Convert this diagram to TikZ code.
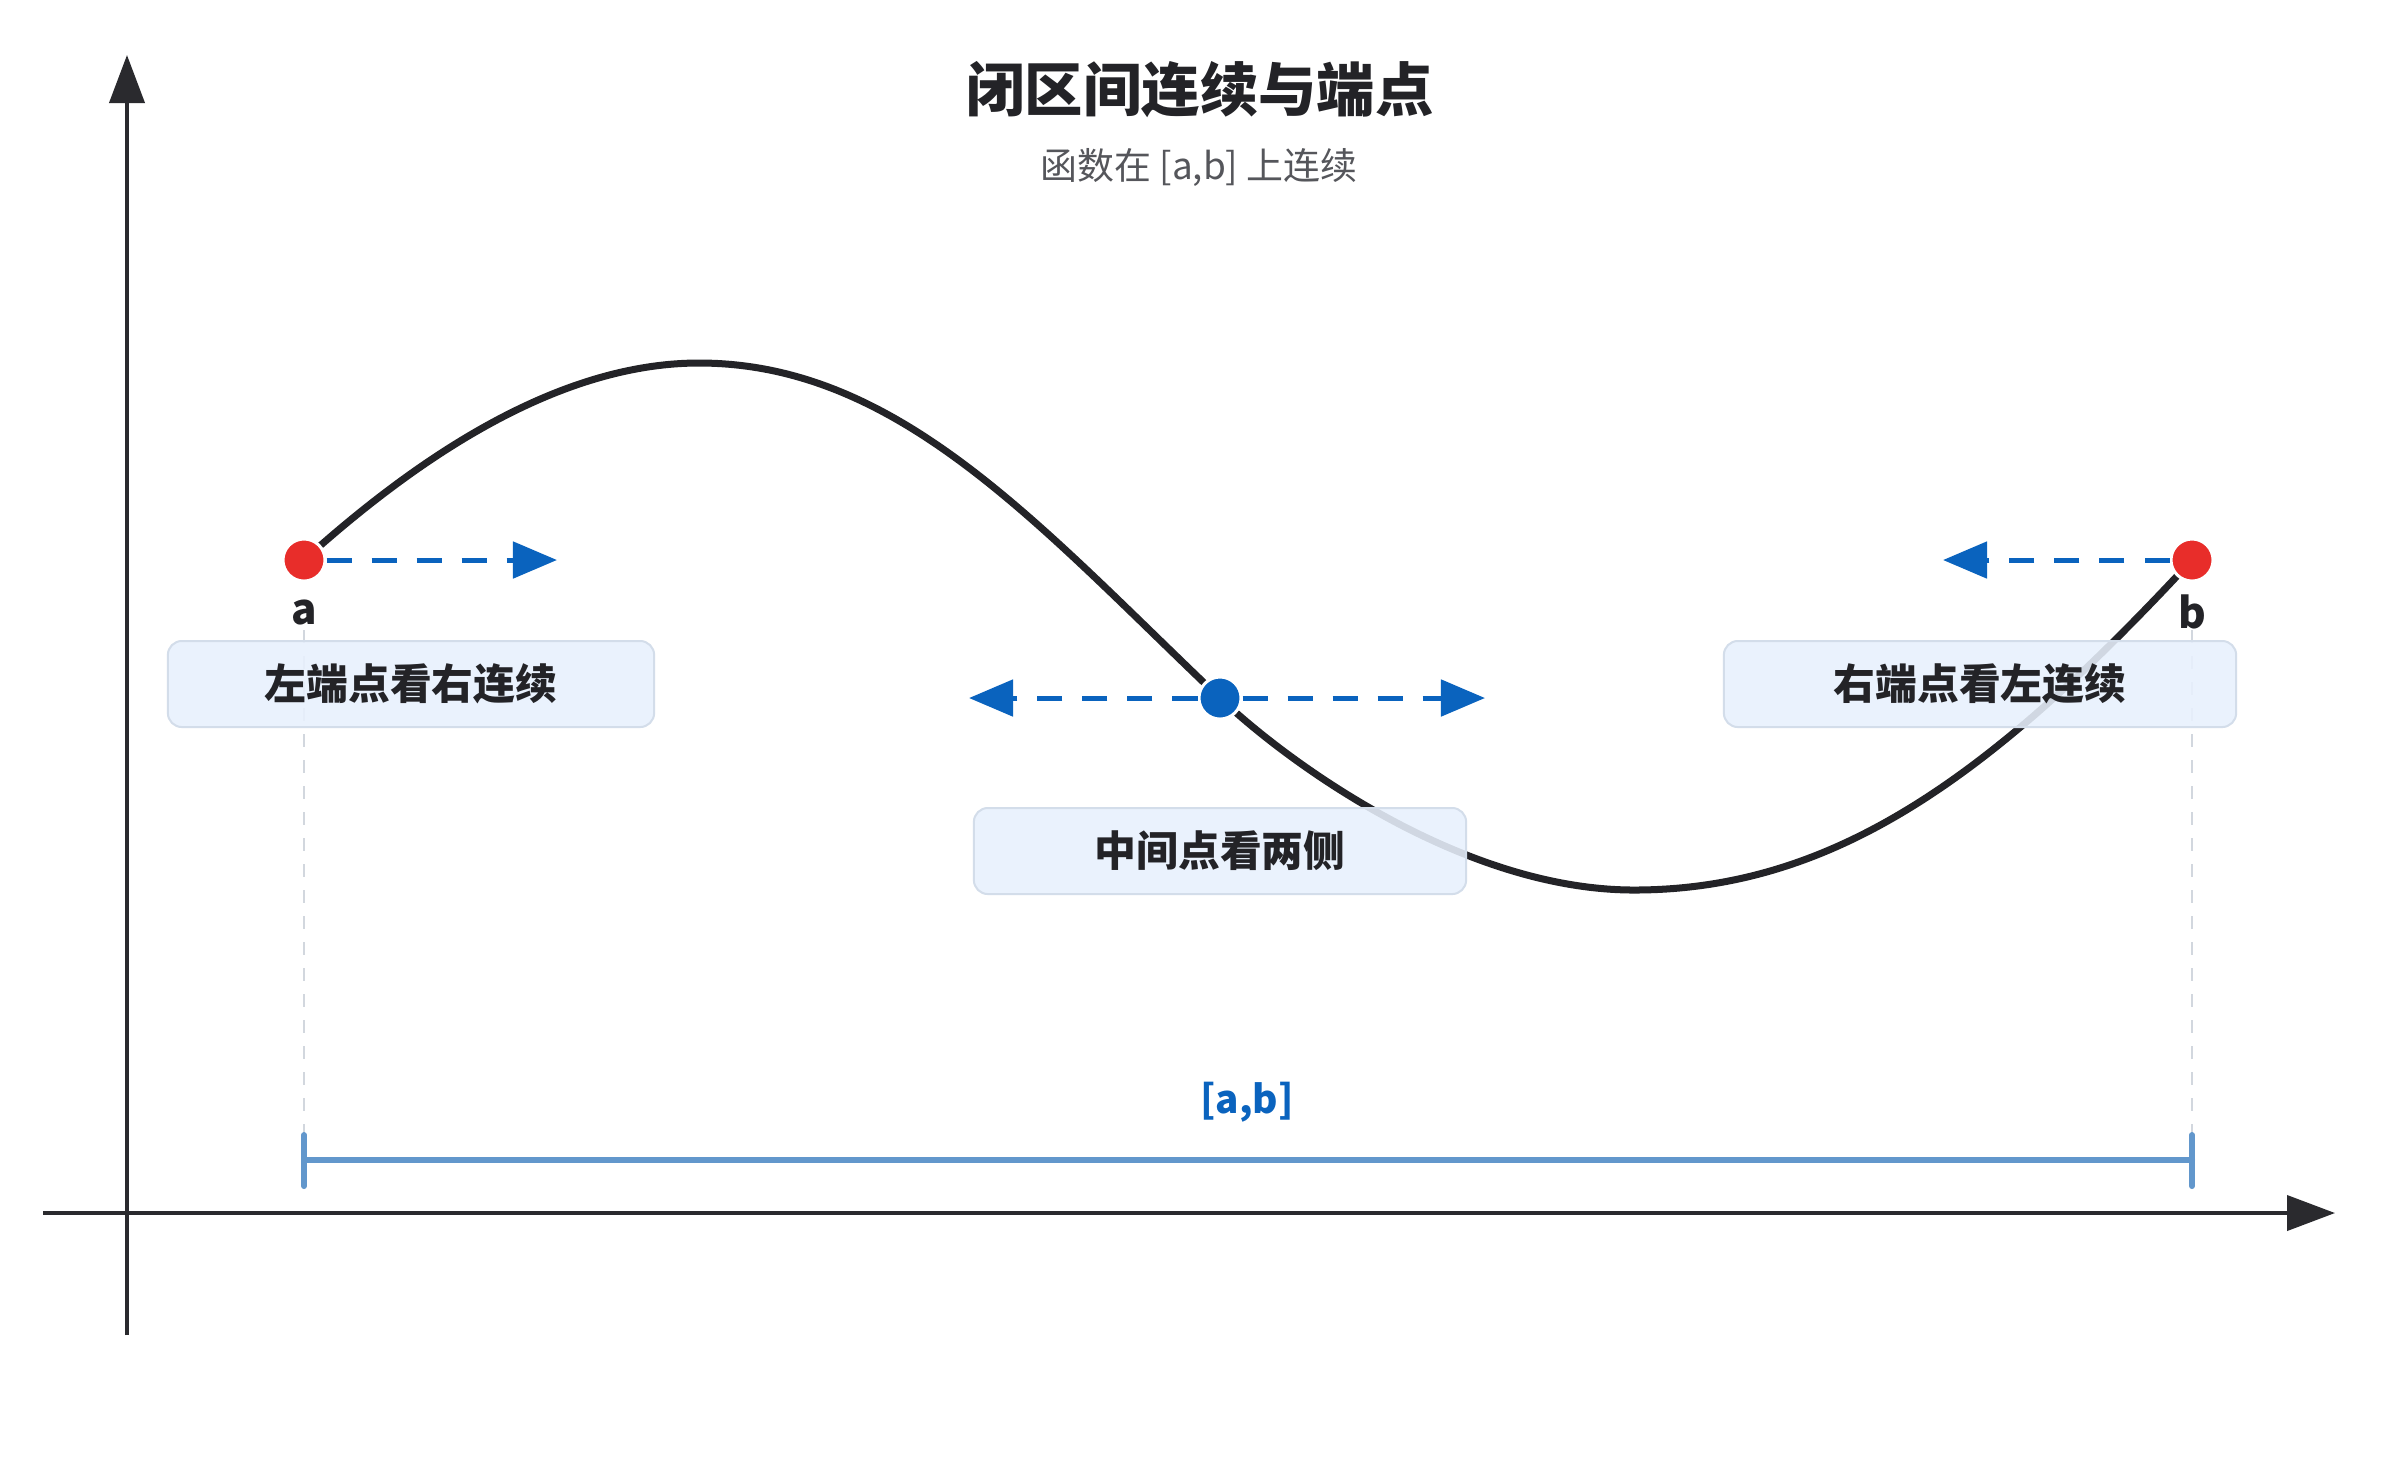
\documentclass[tikz,border=0pt]{standalone}
\usepackage{fontspec}
\setmainfont{Noto Sans CJK SC}
\usetikzlibrary{arrows.meta}
\definecolor{ink}{HTML}{232327}
\definecolor{axisc}{HTML}{2A2A2E}
\definecolor{blueA}{RGB}{10,99,190}
\definecolor{redA}{RGB}{232,45,42}
\definecolor{boxfill}{HTML}{E8F1FD}
\definecolor{boxline}{HTML}{D3DDEA}
\definecolor{guide}{HTML}{D2D7DE}
\definecolor{intc}{RGB}{98,151,204}
\definecolor{subc}{HTML}{55565B}
\tikzset{
  axisline/.style={draw=axisc, line width=0.04cm, -{Triangle[length=0.48cm,width=0.35cm]}},
  curveline/.style={draw=ink, line width=0.07cm, line cap=round},
  guideline/.style={draw=guide, line width=0.02cm, dash pattern=on 0.13cm off 0.13cm},
  intline/.style={draw=intc, line width=0.06cm, line cap=round},
  notebox/.style={draw=boxline, line width=0.02cm, fill=boxfill, fill opacity=0.88, text opacity=1,
    rounded corners=0.14cm, minimum height=0.86cm, inner sep=0pt, text=ink,
    font=\fontsize{11.9pt}{14pt}\selectfont\bfseries},
  reddot/.style={circle, fill=redA, draw=white, line width=0.03cm, minimum size=0.42cm, inner sep=0pt},
  bluedot/.style={circle, fill=blueA, draw=white, line width=0.03cm, minimum size=0.42cm, inner sep=0pt},
  bluearrow/.style={draw=blueA, line width=0.05cm, dash pattern=on 0.25cm off 0.2cm,
    -{Triangle[length=0.44cm,width=0.36cm]}},
  ptlabel/.style={text=ink, font=\fontsize{12pt}{14pt}\selectfont\bfseries, inner sep=0pt}
}
\begin{document}
\begin{tikzpicture}[x=0.01cm,y=-0.01cm]
\useasboundingbox[fill=white] (0,0) rectangle (2400,1462);

% axes
\coordinate (xs) at (43,1213);
\coordinate (xe) at (2335,1213);
\coordinate (ys) at (127,1335);
\coordinate (ye) at (127,55);
\draw[axisline] (xs) -- (xe);
\draw[axisline] (ys) -- (ye);

% title
\node[text=ink, font=\fontsize{16.6pt}{20pt}\selectfont\bfseries] (title) at (1200,90) {闭区间连续与端点};
\node[text=subc, font=\fontsize{10.5pt}{12pt}\selectfont] (subtitle) at (1199,167) {函数在 [a,b] 上连续};

% guides
\coordinate (ga1) at (304,630);
\coordinate (ga2) at (304,1202);
\coordinate (gb1) at (2192,630);
\coordinate (gb2) at (2192,1202);
\draw[guideline] (ga1) -- (ga2);
\draw[guideline] (gb1) -- (gb2);

% curve key points
\coordinate (pa) at (304,560);
\coordinate (ptop) at (699,363);
\coordinate (pm) at (1220,698);
\coordinate (pbot) at (1634,890);
\coordinate (pb) at (2192,560);
\draw[curveline] (pa) .. controls (404,470) and (549,363) .. (ptop)
  .. controls (899,363) and (1040,527) .. (pm)
  .. controls (1290,764.5) and (1464,890) .. (pbot)
  .. controls (1834,890) and (1992,776) .. (pb);

% interval
\coordinate (ia) at (304,1160);
\coordinate (ib) at (2192,1160);
\coordinate (iat) at (304,1135);
\coordinate (iab) at (304,1186);
\coordinate (ibt) at (2192,1135);
\coordinate (ibb) at (2192,1186);
\draw[intline] (ia) -- (ib);
\draw[intline] (iat) -- (iab);
\draw[intline] (ibt) -- (ibb);
\node[text=blueA, font=\fontsize{11pt}{13pt}\selectfont\bfseries] (ablabel) at (1247,1102) {[a,b]};

% boxes
\node[notebox, minimum width=4.86cm] (boxL) at (411,684) {左端点看右连续};
\node[notebox, minimum width=4.92cm] (boxM) at (1220,851) {中间点看两侧};
\node[notebox, minimum width=5.12cm] (boxR) at (1980,684) {右端点看左连续};

% dots
\node[reddot] (a) at (pa) {};
\node[reddot] (b) at (pb) {};
\node[bluedot] (m) at (pm) {};

% arrows
\coordinate (aR) at (557,560);
\coordinate (bL) at (1943,560);
\coordinate (mL) at (969,698);
\coordinate (mR) at (1485,698);
\draw[bluearrow] (a) -- (aR);
\draw[bluearrow] (b) -- (bL);
\draw[bluearrow] (m) -- (mL);
\draw[bluearrow] (m) -- (mR);

% point labels
\node[ptlabel] (alab) at (304,612) {a};
\node[ptlabel] (blab) at (2192,612) {b};
\end{tikzpicture}
\end{document}
